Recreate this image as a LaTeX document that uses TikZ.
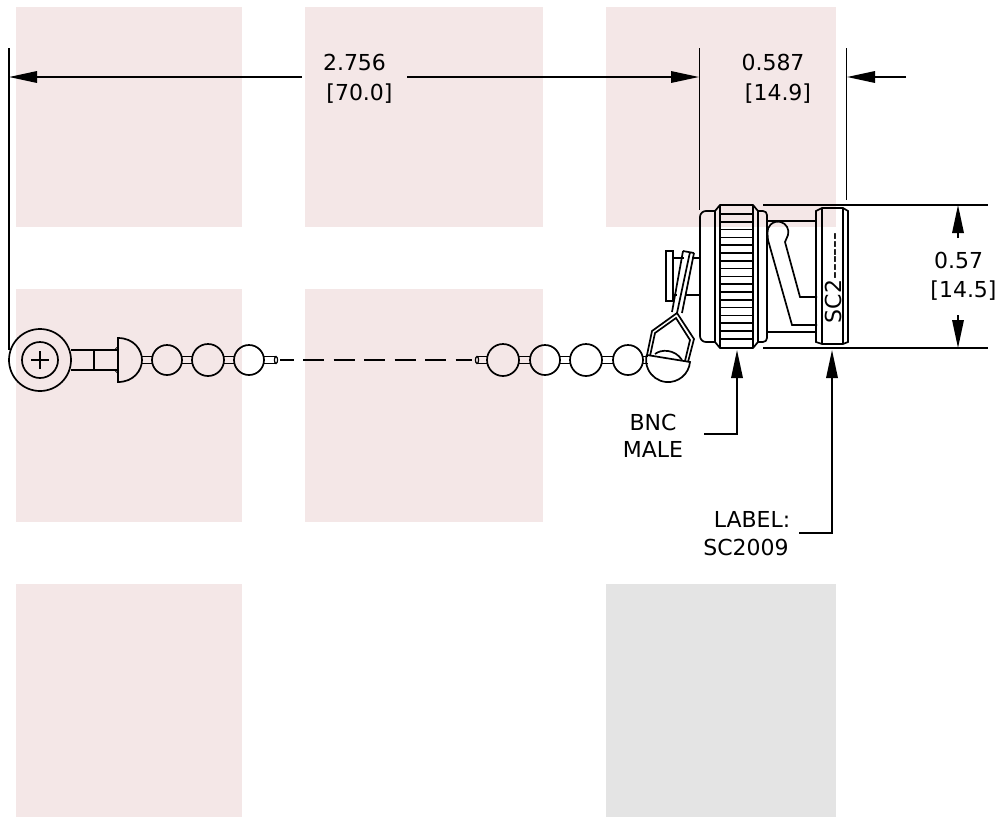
\documentclass[tikz,border=0pt]{standalone}
\usepackage{fontspec}
\setmainfont{DejaVu Sans}
\usetikzlibrary{arrows.meta,positioning}
\definecolor{pinkzone}{HTML}{F4E7E7}
\definecolor{grayzone}{HTML}{E4E4E4}
\begin{document}
\begin{tikzpicture}[x=1pt,y=-1pt,line width=1.7pt,>={Triangle[length=28pt,width=11.5pt]}]
	\tikzset{zone/.style={fill=pinkzone,draw=none},
		grayblock/.style={fill=grayzone,draw=none},
		dim/.style={font=\fontsize{22pt}{26pt}\selectfont,inner sep=0pt,anchor=base},
		bead/.style={draw,circle,minimum size=#1,inner sep=0pt},
	}
	\useasboundingbox (0,0) rectangle (1003,817);

	\fill[zone] (16,7) rectangle (242,227);
	\fill[zone] (305,7) rectangle (543,227);
	\fill[zone] (606,7) rectangle (836,227);
	\fill[zone] (16,289) rectangle (242,522);
	\fill[zone] (305,289) rectangle (543,522);
	\fill[zone] (16,584) rectangle (242,817);
	\fill[grayblock] (606,584) rectangle (836,817);

	% screw eye and dome
	\node[bead=62pt] (eye) at (40,360) {};
	\node[bead=36pt] (screw) at (40,360) {};
	\draw (31,360) -- (49,360) (40,351) -- (40,369);
	\draw (71,350) -- (118,350) (71,370) -- (118,370) (94,350) -- (94,370);
	\draw (118,338) .. controls (134,338) and (142,350) .. (142,360) .. controls (142,370) and (134,382) .. (118,382) -- cycle;
	\draw[line width=0.8pt] (117,349) circle (1.6) (117,371) circle (1.6);

	% beads, left part
	\node[bead=30pt] (beada) at (167,360) {};
	\node[bead=32pt] (beadb) at (208,360) {};
	\node[bead=30pt] (beadc) at (249,360) {};
	% beads, right part
	\node[bead=32pt] (beadd) at (503,360) {};
	\node[bead=30pt] (beade) at (545,360) {};
	\node[bead=32pt] (beadf) at (586,360) {};
	\node[bead=30pt] (beadg) at (628,360) {};
	\foreach \xa/\xb in {142/152,182/192,224/234,264/276,477/487,519/530,560/570,602/613,643/648}
		\draw (\xa,356.5) -- (\xb,356.5) (\xa,363.5) -- (\xb,363.5);
	\draw[line width=1.2pt] (276,360) ellipse (1.6 and 3.5);
	\draw[line width=1.2pt] (477,360) ellipse (1.6 and 3.5);
	\coordinate (breakl) at (280,360);
	\coordinate (breakr) at (472,360);
	\draw[dash pattern=on 21pt off 9.5pt,dash phase=7.5pt] (breakl) -- (breakr);

	% end ball and loop
	\draw (647,355) -- (690,362) arc[start angle=5,end angle=193,radius=22];
	\draw (655,354) .. controls (661,349) and (675,349) .. (682,360);
	\draw (647,355) -- (652,331) -- (677,313) -- (694,339) -- (688,362);
	\draw (650,356) -- (655,333) -- (676,318) -- (690,340) -- (685,361);
	\draw (672,312) -- (683,251) (677,313) -- (690,252) (682,313) -- (694,253) (683,251) -- (694,253);

	% connector
	\draw (673,251) rectangle (666,301);
	\draw (673,258) -- (684,258) (692,258) -- (700,258) (673,295) -- (677,295) (686,295) -- (700,295);
	\draw[rounded corners=6pt] (715,211) -- (700,211) -- (700,342) -- (715,342);
	\draw (715,211) -- (720,205) -- (753,205) -- (758,211) -- (758,342) -- (753,348) -- (720,348) -- (715,342) -- cycle;
	\draw (720,205) -- (720,348) (753,205) -- (753,348);
	\foreach \i in {0,...,16}
		\draw (720,214+7.8*\i) -- (753,214+7.8*\i);
	\draw[rounded corners=4pt] (758,211) -- (767,211) -- (767,342) -- (758,342);
	\draw (767,221) -- (817,221) (767,332) -- (817,332);
	\draw (817,297) -- (800,297) -- (785,242) -- (788,235) arc[start angle=16,end angle=-185,radius=10.5] -- (768,240) -- (792,325) -- (817,325);
	\draw (816,211) -- (822,208) -- (843,208) -- (848,211) -- (848,342) -- (843,344) -- (822,344) -- (816,342) -- cycle;
	\draw (822,208) -- (822,344) (843,208) -- (843,344);
	\node[dim,rotate=90,anchor=base west] (sclabel) at (841,324) {SC2-\kern0pt-\kern0pt-\kern0pt-\kern0pt-\kern0pt-};

	% overall length
	\coordinate (extlt) at (9,48);
	\coordinate (extlb) at (9,350);
	\coordinate (extmt) at (699.5,48);
	\coordinate (extmb) at (699.5,210);
	\coordinate (extrt) at (846.5,48);
	\coordinate (extrb) at (846.5,200);
	\draw (extlt) -- (extlb);
	\draw (extmt) -- (extmb);
	\draw (extrt) -- (extrb);
	\node[dim] (lena) at (354.5,70.5) {2.756};
	\node[dim] (lenb) at (359.5,100) {[70.0]};
	\node[dim] (pluga) at (773,70.5) {0.587};
	\node[dim] (plugb) at (778,100) {[14.9]};
	\coordinate (lentipl) at (9,77);
	\coordinate (lengapl) at (302,77);
	\coordinate (lengapr) at (407,77);
	\coordinate (lentipr) at (699,77);
	\coordinate (plugtip) at (847,77);
	\coordinate (plugend) at (906,77);
	\draw[->] (lengapl) -- (lentipl);
	\draw[->] (lengapr) -- (lentipr);
	\draw[->] (plugend) -- (plugtip);

	% diameter
	\coordinate (diatl) at (763,205);
	\coordinate (diatr) at (988,205);
	\coordinate (diabl) at (763,348);
	\coordinate (diabr) at (988,348);
	\draw (diatl) -- (diatr);
	\draw (diabl) -- (diabr);
	\node[dim] (diaa) at (958.5,268) {0.57};
	\node[dim] (diab) at (963.5,297) {[14.5]};
	\coordinate (diatip) at (958,205);
	\coordinate (diatail) at (958,238);
	\coordinate (diatipb) at (958,348);
	\coordinate (diatailb) at (958,315);
	\draw[->] (diatail) -- (diatip);
	\draw[->] (diatailb) -- (diatipb);

	% callouts
	\node[dim] (bnca) at (653,430) {BNC};
	\node[dim] (bncb) at (653,457) {MALE};
	\node[dim] (labela) at (752,527) {LABEL:};
	\node[dim] (labelb) at (746,555) {SC2009};
	\coordinate (bnctip) at (737,350);
	\coordinate (bncend) at (704,434);
	\coordinate (labtip) at (832,350);
	\coordinate (labend) at (799,533);
	\draw[->] (bncend) -| (bnctip);
	\draw[->] (labend) -| (labtip);
\end{tikzpicture}
\end{document}
